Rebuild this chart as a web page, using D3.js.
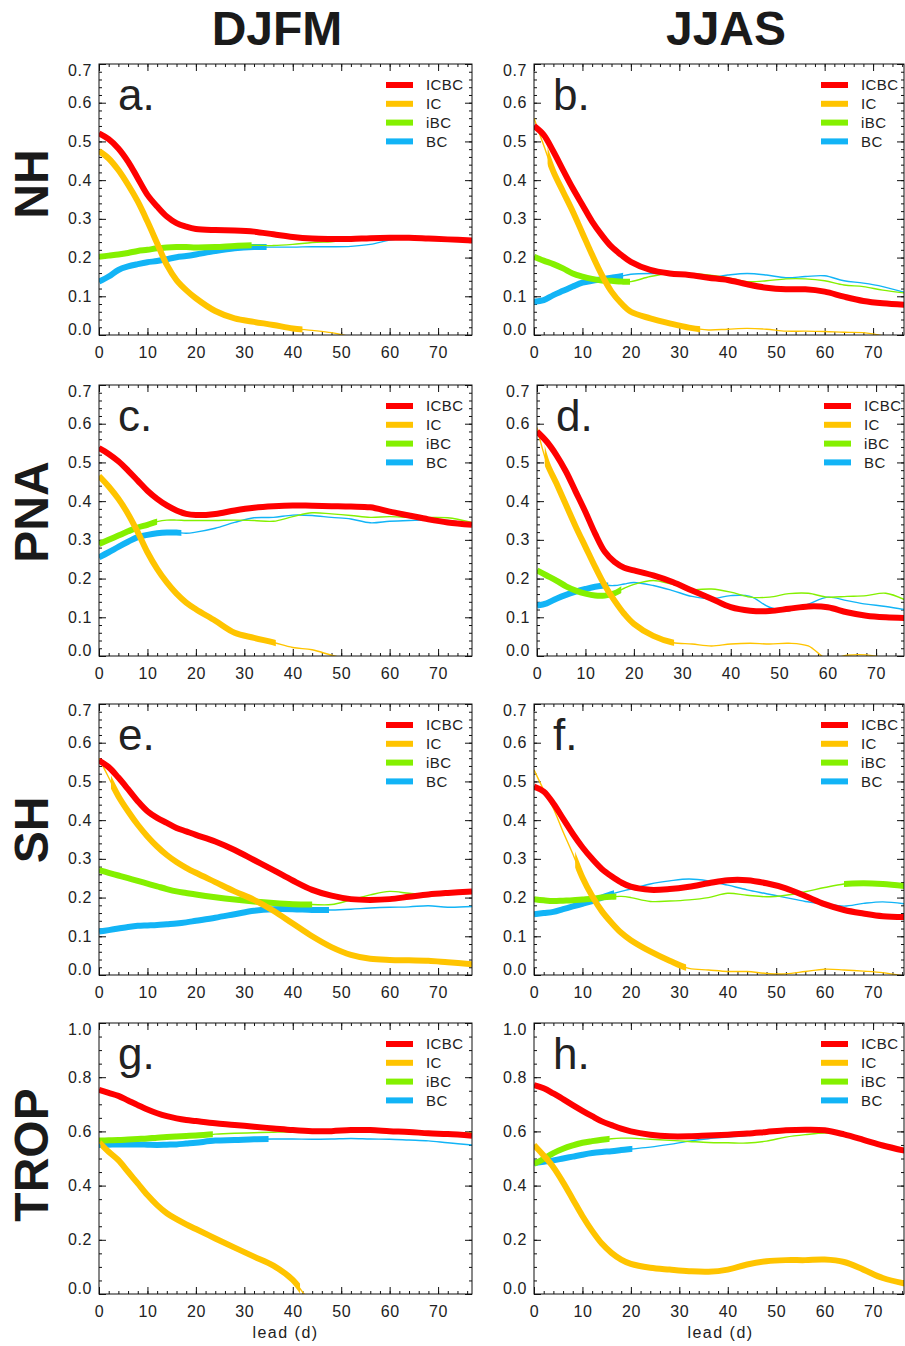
<!DOCTYPE html>
<html>
<head>
<meta charset="utf-8">
<script src="https://cdn.jsdelivr.net/npm/d3@7"></script>
<style>
  body { margin: 0; background: #fff; }
  svg { display: block; }
  text { font-family: "Liberation Sans", Arial, sans-serif; fill: #222; }
</style>
</head>
<body>
<div id="chart"></div>
<script>
// lead days (x) shared by every curve
const leads = [0, 2, 4, 6, 8, 10, 12, 14, 16, 18, 20, 24, 28, 32, 36, 40, 44, 48, 52, 56, 60, 64, 68, 72, 77];

const seriesNames = ['ICBC', 'IC', 'iBC', 'BC'];
const seasons = ['DJFM', 'JJAS'];
const regions = ['NH', 'PNA', 'SH', 'TROP'];
const xTicks = [0, 10, 20, 30, 40, 50, 60, 70];
const yTicksCorr = [0, 0.1, 0.2, 0.3, 0.4, 0.5, 0.6, 0.7];
const yTicksTrop = [0, 0.2, 0.4, 0.6, 0.8, 1.0];

// a. NH DJFM
const aICBC = [0.521,0.506,0.482,0.448,0.405,0.362,0.332,0.306,0.289,0.280,0.274,0.271,0.270,0.267,0.260,0.253,0.249,0.248,0.248,0.250,0.251,0.251,0.249,0.247,0.244];
const aIC   = [0.475,0.456,0.426,0.388,0.345,0.293,0.237,0.181,0.142,0.116,0.095,0.062,0.043,0.034,0.026,0.017,0.012,0.006,-0.005,-0.02,-0.03,-0.04,-0.05,-0.05,-0.05];
const aIBC  = [0.202,0.205,0.208,0.212,0.217,0.220,0.224,0.226,0.227,0.227,0.226,0.227,0.230,0.232,0.231,0.234,0.239,0.241,0.244,0.246,0.247,0.247,0.247,0.245,0.243];
const aBC   = [0.138,0.151,0.168,0.177,0.183,0.188,0.191,0.196,0.201,0.204,0.208,0.217,0.224,0.227,0.227,0.227,0.228,0.228,0.229,0.234,0.245,0.252,0.252,0.248,0.244];
const aSig  = [[[0, 77]], [[0, 42]], [[0, 31.5]], [[0, 34.6]]];

// b. NH JJAS
const bICBC = [0.540,0.517,0.474,0.426,0.379,0.336,0.293,0.258,0.228,0.207,0.189,0.168,0.159,0.155,0.148,0.142,0.131,0.122,0.118,0.118,0.112,0.099,0.088,0.082,0.078];
const bIC   = [0.560,0.490,0.422,0.370,0.319,0.263,0.207,0.155,0.112,0.082,0.060,0.043,0.030,0.019,0.013,0.015,0.017,0.015,0.010,0.010,0.009,0.007,0.006,-0.002,-0.02];
const bIBC  = [0.202,0.192,0.183,0.172,0.159,0.151,0.145,0.141,0.140,0.138,0.138,0.151,0.159,0.159,0.155,0.148,0.138,0.140,0.145,0.145,0.140,0.129,0.125,0.116,0.108];
const bBC   = [0.086,0.090,0.103,0.114,0.125,0.135,0.140,0.144,0.148,0.152,0.157,0.159,0.158,0.155,0.148,0.155,0.159,0.155,0.148,0.151,0.153,0.140,0.134,0.125,0.108];
const bSig  = [[[0, 77]], [[2.8, 34.3]], [[0, 19.8]], [[0, 18.4]]];

// c. PNA DJFM
const cICBC = [0.537,0.522,0.503,0.479,0.453,0.427,0.406,0.389,0.376,0.367,0.364,0.367,0.376,0.383,0.387,0.389,0.388,0.387,0.386,0.384,0.373,0.363,0.353,0.345,0.339];
const cIC   = [0.465,0.438,0.406,0.367,0.320,0.268,0.225,0.190,0.161,0.138,0.121,0.091,0.060,0.047,0.035,0.022,0.016,0.002,-0.01,-0.02,-0.03,-0.04,-0.05,-0.05,-0.05];
const cIBC  = [0.289,0.300,0.311,0.322,0.332,0.339,0.347,0.351,0.351,0.350,0.350,0.350,0.351,0.350,0.348,0.360,0.370,0.367,0.363,0.358,0.360,0.358,0.358,0.357,0.345];
const cBC   = [0.255,0.268,0.282,0.295,0.307,0.313,0.317,0.319,0.319,0.317,0.320,0.330,0.345,0.357,0.358,0.364,0.363,0.358,0.354,0.344,0.348,0.350,0.351,0.350,0.341];
const cSig  = [[[0, 77]], [[0, 36.5]], [[0, 12]], [[0, 17]]];

// d. PNA JJAS
const dICBC = [0.580,0.554,0.519,0.476,0.424,0.372,0.316,0.269,0.243,0.228,0.221,0.208,0.191,0.169,0.148,0.126,0.117,0.116,0.122,0.128,0.126,0.113,0.104,0.100,0.098];
const dIC   = [0.590,0.500,0.446,0.390,0.334,0.282,0.230,0.182,0.143,0.109,0.083,0.052,0.035,0.031,0.026,0.031,0.033,0.031,0.033,0.026,-0.008,0.002,0.003,-0.004,0.0];
const dIBC  = [0.221,0.208,0.195,0.180,0.169,0.161,0.156,0.156,0.162,0.175,0.185,0.195,0.185,0.172,0.173,0.165,0.152,0.152,0.161,0.162,0.152,0.154,0.156,0.162,0.139];
const dBC   = [0.130,0.136,0.148,0.158,0.166,0.173,0.179,0.182,0.182,0.186,0.190,0.182,0.169,0.154,0.148,0.156,0.154,0.126,0.117,0.134,0.152,0.143,0.134,0.128,0.117];
const dSig  = [[[0, 77]], [[1.6, 28.3]], [[0, 17.4]], [[0, 14.7]]];

// e. SH DJFM
const eICBC = [0.554,0.537,0.510,0.480,0.449,0.423,0.406,0.393,0.380,0.371,0.362,0.345,0.323,0.297,0.271,0.244,0.220,0.205,0.196,0.194,0.196,0.202,0.208,0.212,0.216];
const eIC   = [0.560,0.510,0.462,0.423,0.388,0.358,0.332,0.310,0.292,0.277,0.264,0.240,0.216,0.194,0.166,0.133,0.100,0.072,0.052,0.042,0.039,0.038,0.037,0.033,0.028];
const eIBC  = [0.271,0.264,0.257,0.250,0.243,0.236,0.229,0.222,0.216,0.212,0.208,0.201,0.195,0.190,0.186,0.183,0.182,0.182,0.194,0.207,0.216,0.211,0.207,0.209,0.211];
const eBC   = [0.112,0.116,0.120,0.124,0.127,0.128,0.129,0.131,0.133,0.136,0.140,0.148,0.157,0.166,0.170,0.170,0.168,0.168,0.170,0.173,0.175,0.176,0.179,0.175,0.177];
const eSig  = [[[0, 77]], [[2.5, 77]], [[0, 44]], [[0, 47.5]]];

// f. SH JJAS
const fICBC = [0.487,0.474,0.443,0.404,0.365,0.330,0.300,0.274,0.255,0.239,0.228,0.220,0.222,0.228,0.237,0.245,0.245,0.237,0.224,0.204,0.183,0.168,0.159,0.152,0.150];
const fIC   = [0.530,0.478,0.430,0.370,0.313,0.252,0.204,0.165,0.135,0.109,0.090,0.061,0.037,0.017,0.013,0.009,0.009,0.004,0.003,0.009,0.015,0.013,0.010,0.006,-0.004];
const fIBC  = [0.196,0.193,0.191,0.192,0.193,0.195,0.197,0.200,0.202,0.203,0.200,0.190,0.191,0.194,0.200,0.211,0.206,0.202,0.206,0.215,0.226,0.235,0.237,0.235,0.229];
const fBC   = [0.157,0.160,0.163,0.170,0.177,0.184,0.191,0.200,0.209,0.216,0.222,0.235,0.243,0.248,0.243,0.232,0.220,0.210,0.200,0.190,0.184,0.178,0.185,0.189,0.183];
const fSig  = [[[0, 77]], [[8.5, 31.4]], [[0, 17], [64, 77]], [[0, 16.5]]];

// g. TROP DJFM
const gICBC = [0.753,0.742,0.731,0.714,0.697,0.681,0.667,0.656,0.648,0.642,0.638,0.630,0.624,0.617,0.611,0.605,0.601,0.601,0.605,0.605,0.601,0.598,0.593,0.590,0.584];
const gIC   = [0.560,0.525,0.494,0.451,0.408,0.365,0.328,0.298,0.276,0.257,0.240,0.205,0.171,0.138,0.105,0.052,-0.04,-0.12,-0.2,-0.2,-0.2,-0.2,-0.2,-0.2,-0.2];
const gIBC  = [0.566,0.567,0.568,0.570,0.572,0.574,0.577,0.579,0.581,0.583,0.585,0.590,0.593,0.595,0.597,0.598,0.598,0.599,0.600,0.600,0.598,0.597,0.596,0.594,0.594];
const gBC   = [0.550,0.551,0.552,0.552,0.552,0.551,0.550,0.551,0.552,0.555,0.558,0.566,0.568,0.571,0.572,0.572,0.571,0.572,0.574,0.572,0.571,0.568,0.565,0.558,0.550];
const gSig  = [[[0, 77]], [[0.3, 41.5]], [[0, 23.5]], [[0, 35]]];

// h. TROP JJAS
const hICBC = [0.771,0.759,0.740,0.719,0.697,0.676,0.656,0.637,0.623,0.610,0.600,0.588,0.582,0.582,0.585,0.588,0.592,0.598,0.604,0.606,0.604,0.589,0.569,0.548,0.527];
const hIC   = [0.550,0.511,0.468,0.412,0.350,0.288,0.233,0.186,0.152,0.127,0.111,0.097,0.090,0.084,0.082,0.090,0.109,0.121,0.125,0.125,0.127,0.118,0.090,0.059,0.037];
const hIBC  = [0.480,0.499,0.520,0.536,0.548,0.558,0.564,0.569,0.573,0.575,0.575,0.571,0.567,0.563,0.559,0.558,0.557,0.564,0.579,0.588,0.594,0.589,0.569,0.545,0.520];
const hBC   = [0.483,0.488,0.493,0.500,0.507,0.514,0.520,0.524,0.527,0.531,0.535,0.542,0.552,0.564,0.573,0.579,0.585,0.595,0.601,0.604,0.604,0.589,0.569,0.548,0.530];
const hSig  = [[[0, 77]], [[0, 77]], [[0, 15.6]], [[0, 20.3]]];

const panels = [
  { letter: 'a.', values: [aICBC, aIC, aIBC, aBC], sig: aSig, yMax: 0.7 },
  { letter: 'b.', values: [bICBC, bIC, bIBC, bBC], sig: bSig, yMax: 0.7 },
  { letter: 'c.', values: [cICBC, cIC, cIBC, cBC], sig: cSig, yMax: 0.7 },
  { letter: 'd.', values: [dICBC, dIC, dIBC, dBC], sig: dSig, yMax: 0.7 },
  { letter: 'e.', values: [eICBC, eIC, eIBC, eBC], sig: eSig, yMax: 0.7 },
  { letter: 'f.', values: [fICBC, fIC, fIBC, fBC], sig: fSig, yMax: 0.7 },
  { letter: 'g.', values: [gICBC, gIC, gIBC, gBC], sig: gSig, yMax: 1.0 },
  { letter: 'h.', values: [hICBC, hIC, hIBC, hBC], sig: hSig, yMax: 1.0 }
];

const colors = { ICBC: '#ff0000', IC: '#ffc400', iBC: '#84f000', BC: '#12b4f6' };

const W = 905, H = 1346;
const colX = [99, 534];
const rowTop = [64, 385, 704, 1023];
const plotW = 373, plotH = 271;
const rightEdge = 904;
const rowLabelY = [184, 512, 830, 1155];

const svg = d3.select('#chart').append('svg')
  .attr('width', W)
  .attr('height', H);

// column titles
seasons.forEach((s, i) => {
  svg.append('text')
    .attr('x', i === 0 ? 277 : 726)
    .attr('y', 45)
    .attr('text-anchor', 'middle')
    .style('font-size', '48px')
    .style('font-weight', 'bold')
    .style('fill', '#1a1a1a')
    .text(s);
});

// row titles
regions.forEach((r, i) => {
  svg.append('text')
    .attr('transform', `translate(48,${rowLabelY[i]}) rotate(-90)`)
    .attr('text-anchor', 'middle')
    .style('font-size', '48px')
    .style('font-weight', 'bold')
    .style('fill', '#1a1a1a')
    .text(r);
});

const drawOrder = [3, 2, 1, 0]; // BC under, ICBC on top

panels.forEach((p, idx) => {
  const col = idx % 2, row = Math.floor(idx / 2);
  const x0 = colX[col] + (idx === 3 ? 3 : 0);
  const top = rowTop[row];
  const frameW = Math.min(plotW, rightEdge - x0);

  const x = d3.scaleLinear().domain([0, 77]).range([x0, x0 + plotW]);
  const y = d3.scaleLinear().domain([0, p.yMax]).range([top + plotH, top]);

  const g = svg.append('g');

  const clipId = `clip${idx}`;
  svg.append('clipPath').attr('id', clipId)
    .append('rect')
    .attr('x', x0).attr('y', top)
    .attr('width', frameW).attr('height', plotH);

  const yMajor = p.yMax === 1.0 ? yTicksTrop : yTicksCorr;
  const yMinorStep = p.yMax === 1.0 ? 0.05 : 0.02;
  const yMinor = d3.range(0, p.yMax + 1e-6, yMinorStep);
  const xMinor = d3.range(0, 77, 2);

  // axes, ticks pointing inward on all four sides
  const fmt = d3.format('.1f');
  const left = g.append('g').attr('transform', `translate(${x0},0)`)
    .call(d3.axisLeft(y).tickValues(yMajor).tickSize(-7).tickPadding(7).tickFormat(fmt));
  g.append('g').attr('transform', `translate(${x0},0)`)
    .call(d3.axisLeft(y).tickValues(yMinor).tickSize(-3).tickFormat(''));
  g.append('g').attr('transform', `translate(${x0 + frameW},0)`)
    .call(d3.axisRight(y).tickValues(yMajor).tickSize(-7).tickFormat(''));
  g.append('g').attr('transform', `translate(${x0 + frameW},0)`)
    .call(d3.axisRight(y).tickValues(yMinor).tickSize(-3).tickFormat(''));

  const bottom = g.append('g').attr('transform', `translate(0,${top + plotH})`)
    .call(d3.axisBottom(x).tickValues(xTicks).tickSize(-7).tickPadding(12));
  g.append('g').attr('transform', `translate(0,${top + plotH})`)
    .call(d3.axisBottom(x).tickValues(xMinor).tickSize(-3).tickFormat(''));
  g.append('g').attr('transform', `translate(0,${top})`)
    .call(d3.axisTop(x).tickValues(xTicks).tickSize(-7).tickFormat(''));
  g.append('g').attr('transform', `translate(0,${top})`)
    .call(d3.axisTop(x).tickValues(xMinor).tickSize(-3).tickFormat(''));

  g.selectAll('.domain').remove();
  g.selectAll('.tick line').attr('stroke', '#111');
  g.selectAll('.tick text')
    .style('font-size', '16px')
    .style('letter-spacing', '0.6px')
    .style('fill', '#222');

  // end labels of the y axis are pulled inside the frame
  left.selectAll('.tick text')
    .attr('dy', d => d === 0 ? '-0.05em' : (d === p.yMax ? '0.72em' : '0.32em'));

  // curves
  const line = d3.line()
    .x((d, i) => x(leads[i]))
    .y(d => y(d))
    .curve(d3.curveCatmullRom.alpha(0.5));

  const lines = g.append('g').attr('clip-path', `url(#${clipId})`);

  drawOrder.forEach(k => {
    const name = seriesNames[k];
    const vals = p.values[k];
    lines.append('path')
      .attr('d', line(vals))
      .attr('fill', 'none')
      .attr('stroke', colors[name])
      .attr('stroke-width', 1.4);

    p.sig[k].forEach((seg, si) => {
      const segId = `seg${idx}_${k}_${si}`;
      svg.append('clipPath').attr('id', segId)
        .append('rect')
        .attr('x', x(seg[0]))
        .attr('y', top - 10)
        .attr('width', Math.min(x(seg[1]), x0 + frameW) - x(seg[0]))
        .attr('height', plotH + 20);
      lines.append('g').attr('clip-path', `url(#${segId})`)
        .append('path')
        .attr('d', line(vals))
        .attr('fill', 'none')
        .attr('stroke', colors[name])
        .attr('stroke-width', 6);
    });
  });

  // frame
  g.append('rect')
    .attr('x', x0).attr('y', top)
    .attr('width', frameW).attr('height', plotH)
    .attr('fill', 'none')
    .attr('stroke', '#111')
    .attr('stroke-width', 1);

  // panel letter
  g.append('text')
    .attr('x', x0 + 19)
    .attr('y', top + 46)
    .style('font-size', '44px')
    .text(p.letter);

  // legend
  seriesNames.forEach((name, k) => {
    const ly = top + 21 + k * 18.8;
    g.append('line')
      .attr('x1', x0 + 287).attr('x2', x0 + 314)
      .attr('y1', ly).attr('y2', ly)
      .attr('stroke', colors[name])
      .attr('stroke-width', 6);
    g.append('text')
      .attr('x', x0 + 327)
      .attr('y', ly)
      .attr('dy', '0.35em')
      .style('font-size', '15px')
      .style('letter-spacing', '0.4px')
      .text(name);
  });

  // x-axis title on the bottom row
  if (row === 3) {
    g.append('text')
      .attr('x', x0 + plotW / 2)
      .attr('y', top + plotH + 44)
      .attr('text-anchor', 'middle')
      .style('font-size', '16px')
      .style('letter-spacing', '1.5px')
      .text('lead (d)');
  }
});
</script>
</body>
</html>
